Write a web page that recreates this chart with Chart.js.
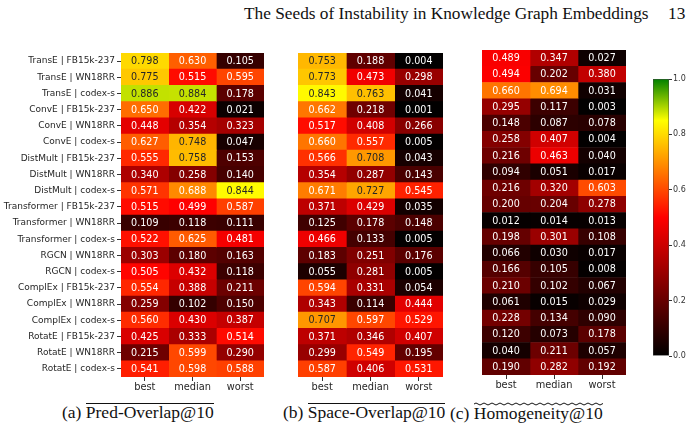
<!DOCTYPE html>
<html>
<head>
<meta charset="utf-8">
<script src="https://cdn.jsdelivr.net/npm/chart.js@4.4.0/dist/chart.umd.min.js"></script>
<style>
  body { margin: 0; background: #fff; }
  #page { position: relative; width: 690px; height: 433px; overflow: hidden; font-family: 'Liberation Serif', serif; color: #111; }
  .box { position: absolute; }
  .head { position: absolute; top: 4px; font-size: 17.3px; white-space: nowrap; }
  .cap { position: absolute; top: 402px; font-size: 17.5px; line-height: 20px; white-space: nowrap; }
  .ov { display: inline-block; line-height: 13px; border-top: 1px solid #111; padding-top: 2px; }
  .wavy { display: inline-block; line-height: 13px; padding-top: 5px;
          background: url("data:image/svg+xml,%3Csvg xmlns='http://www.w3.org/2000/svg' width='8' height='4'%3E%3Cpath d='M0 2 Q2 0 4 2 T8 2' fill='none' stroke='%23111' stroke-width='1'/%3E%3C/svg%3E") repeat-x left top; }
</style>
</head>
<body>
<div id="page">
  <div class="head" style="left:244px">The Seeds of Instability in Knowledge Graph Embeddings</div>
  <div class="head" style="left:668px">13</div>

  <div class="box" style="left:0;top:45px;width:270px;height:352px"><canvas id="predChart"></canvas></div>
  <div class="box" style="left:290px;top:45px;width:160px;height:352px"><canvas id="spaceChart"></canvas></div>
  <div class="box" style="left:470px;top:42px;width:160px;height:352px"><canvas id="homChart"></canvas></div>
  <div class="box" style="left:640px;top:70px;width:50px;height:300px"><canvas id="cbarChart"></canvas></div>

  <div class="cap" style="left:62px">(a) <span class="ov">Pred-Overlap@10</span></div>
  <div class="cap" style="left:283px">(b) <span class="ov">Space-Overlap@10</span></div>
  <div class="cap" style="left:450px">(c) <span class="wavy">Homogeneity@10</span></div>
</div>

<script>
// rows and columns of the heatmaps
const rowLabels = [
    'TransE | FB15k-237', 'TransE | WN18RR', 'TransE | codex-s',
    'ConvE | FB15k-237', 'ConvE | WN18RR', 'ConvE | codex-s',
    'DistMult | FB15k-237', 'DistMult | WN18RR', 'DistMult | codex-s',
    'Transformer | FB15k-237', 'Transformer | WN18RR', 'Transformer | codex-s',
    'RGCN | WN18RR', 'RGCN | codex-s',
    'ComplEx | FB15k-237', 'ComplEx | WN18RR', 'ComplEx | codex-s',
    'RotatE | FB15k-237', 'RotatE | WN18RR', 'RotatE | codex-s'
];
const colLabels = ['best', 'median', 'worst'];

// (a) Pred-Overlap@10
const predBest   = [0.798, 0.775, 0.886, 0.650, 0.448, 0.627, 0.555, 0.340, 0.571, 0.515, 0.109, 0.522, 0.303, 0.505, 0.554, 0.259, 0.560, 0.425, 0.215, 0.541];
const predMedian = [0.630, 0.515, 0.884, 0.422, 0.354, 0.748, 0.758, 0.258, 0.688, 0.499, 0.118, 0.625, 0.180, 0.432, 0.388, 0.102, 0.430, 0.333, 0.599, 0.598];
const predWorst  = [0.105, 0.595, 0.178, 0.021, 0.323, 0.047, 0.153, 0.140, 0.844, 0.587, 0.111, 0.481, 0.163, 0.118, 0.211, 0.150, 0.387, 0.514, 0.290, 0.588];

// (b) Space-Overlap@10
const spaceBest   = [0.753, 0.773, 0.843, 0.662, 0.517, 0.660, 0.566, 0.354, 0.671, 0.371, 0.125, 0.466, 0.183, 0.055, 0.594, 0.343, 0.707, 0.371, 0.299, 0.587];
const spaceMedian = [0.188, 0.473, 0.763, 0.218, 0.408, 0.557, 0.708, 0.287, 0.727, 0.429, 0.178, 0.133, 0.251, 0.281, 0.331, 0.114, 0.597, 0.346, 0.549, 0.406];
const spaceWorst  = [0.004, 0.298, 0.041, 0.001, 0.266, 0.005, 0.043, 0.143, 0.545, 0.035, 0.148, 0.005, 0.176, 0.005, 0.054, 0.444, 0.529, 0.407, 0.195, 0.531];

// (c) Homogeneity@10
const homBest   = [0.489, 0.494, 0.660, 0.295, 0.148, 0.258, 0.216, 0.094, 0.216, 0.200, 0.012, 0.198, 0.066, 0.166, 0.210, 0.061, 0.228, 0.120, 0.040, 0.190];
const homMedian = [0.347, 0.202, 0.694, 0.117, 0.087, 0.407, 0.463, 0.051, 0.320, 0.204, 0.014, 0.301, 0.030, 0.105, 0.102, 0.015, 0.134, 0.073, 0.211, 0.282];
const homWorst  = [0.027, 0.380, 0.031, 0.003, 0.078, 0.004, 0.040, 0.017, 0.603, 0.278, 0.013, 0.108, 0.017, 0.008, 0.067, 0.029, 0.090, 0.178, 0.057, 0.192];

// colorbar ticks
const cbarTicks = [0.0, 0.2, 0.4, 0.6, 0.8, 1.0];

// colormap black -> red -> yellow -> green
const cmapStops = [0, 0.5, 0.85, 1];
const cmapRGB = [[0, 0, 0], [255, 0, 0], [255, 255, 0], [0, 128, 0]];

Chart.defaults.font.family = '"DejaVu Sans", sans-serif';
Chart.defaults.color = '#262626';
Chart.defaults.animation = false;

function cmap(v) {
    let i = 0;
    while (i < cmapStops.length - 2 && v > cmapStops[i + 1]) i++;
    const t = Math.min(1, Math.max(0, (v - cmapStops[i]) / (cmapStops[i + 1] - cmapStops[i])));
    const a = cmapRGB[i], b = cmapRGB[i + 1];
    return a.map((c, k) => Math.round(c + (b[k] - c) * t));
}
function rgbStr(c) { return 'rgb(' + c.join(',') + ')'; }

// seaborn style: dark text on light cells
function textColor(v) {
    const lin = cmap(v).map(c => {
        c = c / 255;
        return c <= 0.03928 ? c / 12.92 : Math.pow((c + 0.055) / 1.055, 2.4);
    });
    const lum = 0.2126 * lin[0] + 0.7152 * lin[1] + 0.0722 * lin[2];
    return lum > 0.408 ? '#262626' : '#ffffff';
}

const annotate = {
    id: 'annotate',
    afterDatasetsDraw(chart) {
        const ctx = chart.ctx;
        ctx.save();
        ctx.font = '9.6px "DejaVu Sans"';
        ctx.textAlign = 'center';
        ctx.textBaseline = 'middle';
        chart.data.datasets.forEach((ds, i) => {
            chart.getDatasetMeta(i).data.forEach((bar, j) => {
                const v = ds.values[j];
                const p = bar.getCenterPoint();
                ctx.fillStyle = textColor(v);
                ctx.fillText(v.toFixed(3), p.x, p.y + 0.5);
            });
        });
        ctx.restore();
    }
};

function makeHeatmap(id, columns, opts) {
    const datasets = columns.map((vals, c) => ({
        data: rowLabels.map(() => [c, c + 1]),
        values: vals,
        backgroundColor: vals.map(v => rgbStr(cmap(v))),
        borderWidth: 0,
        grouped: false,
        barPercentage: 1,
        categoryPercentage: 1
    }));
    return new Chart(document.getElementById(id), {
        type: 'bar',
        data: { labels: rowLabels, datasets: datasets },
        plugins: [annotate],
        options: {
            indexAxis: 'y',
            responsive: true,
            maintainAspectRatio: false,
            layout: { padding: opts.padding },
            plugins: { legend: { display: false }, tooltip: { enabled: false } },
            scales: {
                x: {
                    type: 'linear', min: 0, max: 3,
                    afterBuildTicks: (s) => { s.ticks = [{ value: 0.5 }, { value: 1.5 }, { value: 2.5 }]; },
                    afterFit: (s) => { s.height = opts.xHeight; },
                    ticks: {
                        callback: (v) => colLabels[Math.floor(v)],
                        autoSkip: false, maxRotation: 0, padding: 1,
                        font: { size: 9.8 }, color: '#262626'
                    },
                    grid: { drawOnChartArea: false, drawTicks: true, tickLength: 4, color: '#333' },
                    border: { display: false }
                },
                y: {
                    display: opts.showRows,
                    afterFit: (s) => { s.width = opts.yWidth; },
                    ticks: { autoSkip: false, padding: 2, font: { size: 9 }, color: '#262626' },
                    grid: { offset: false, drawOnChartArea: false, drawTicks: true, tickLength: 4, color: '#333' },
                    border: { display: false }
                }
            }
        }
    });
}

makeHeatmap('predChart', [predBest, predMedian, predWorst],
    { padding: { top: 8, right: 6, left: 0, bottom: 0 }, xHeight: 20, yWidth: 121, showRows: true });
makeHeatmap('spaceChart', [spaceBest, spaceMedian, spaceWorst],
    { padding: { top: 8, right: 7, left: 8, bottom: 0 }, xHeight: 20, yWidth: 0, showRows: false });
makeHeatmap('homChart', [homBest, homMedian, homWorst],
    { padding: { top: 8, right: 4, left: 12, bottom: 0 }, xHeight: 19, yWidth: 0, showRows: false });

// colorbar
new Chart(document.getElementById('cbarChart'), {
    type: 'bar',
    data: {
        labels: [''],
        datasets: [{
            data: [[0, 1]],
            backgroundColor: (c) => {
                const ca = c.chart.chartArea;
                if (!ca) return 'black';
                const g = c.chart.ctx.createLinearGradient(0, ca.bottom, 0, ca.top);
                cmapStops.forEach((s, i) => g.addColorStop(s, rgbStr(cmapRGB[i])));
                return g;
            },
            borderWidth: 0.8,
            borderColor: '#444',
            borderSkipped: false,
            barPercentage: 1,
            categoryPercentage: 1
        }]
    },
    options: {
        responsive: true,
        maintainAspectRatio: false,
        layout: { padding: { top: 9, left: 13, bottom: 14, right: 0 } },
        plugins: { legend: { display: false }, tooltip: { enabled: false } },
        scales: {
            x: { display: false },
            y: {
                position: 'right', min: 0, max: 1,
                afterBuildTicks: (s) => { s.ticks = cbarTicks.map(v => ({ value: v })); },
                afterFit: (s) => { s.width = 21; },
                ticks: { callback: (v) => v.toFixed(1), padding: 1, font: { size: 8 }, color: '#333' },
                grid: { drawOnChartArea: false, drawTicks: true, tickLength: 3, color: '#333' },
                border: { display: false }
            }
        }
    }
});
</script>
</body>
</html>
